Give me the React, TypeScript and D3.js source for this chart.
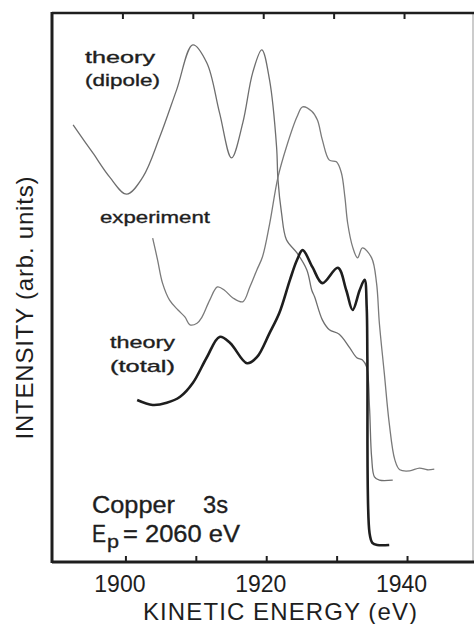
import React from 'react';
import * as d3 from 'd3';

// energies (eV) and intensities (arb. units, 0..100 frame height)
const dipoleE = [1892.5, 1895.3, 1897.7, 1900.1, 1902.4, 1904.8, 1907.2, 1909.5, 1911.5, 1913.3, 1915.0, 1916.6, 1918.0, 1919.3, 1920.4, 1921.4, 1921.6, 1922.1, 1922.8, 1924.3, 1925.7, 1926.4, 1926.8, 1927.9, 1928.9, 1930.3, 1931.8, 1932.8, 1933.6, 1934.2, 1934.6, 1934.9, 1935.3, 1936.0, 1937.9];
const dipoleI = [79.6, 74.5, 70.1, 67.0, 70.1, 77.4, 86.0, 94.2, 90.9, 81.8, 73.6, 80.0, 89.1, 93.3, 87.8, 75.6, 69.6, 63.6, 58.7, 56.3, 53.2, 49.5, 48.3, 44.1, 42.3, 41.5, 39.0, 37.2, 36.8, 35.5, 28.2, 19.1, 15.5, 14.9, 14.9];

const exptE = [1903.8, 1904.5, 1905.2, 1906.2, 1907.4, 1908.4, 1909.1, 1910.1, 1910.8, 1911.9, 1913.0, 1914.0, 1915.2, 1916.6, 1917.6, 1918.6, 1919.4, 1920.4, 1921.6, 1922.8, 1924.3, 1925.1, 1926.4, 1927.2, 1927.9, 1928.9, 1929.9, 1930.6, 1931.1, 1931.5, 1932.2, 1932.9, 1933.6, 1934.9, 1935.6, 1936.0, 1936.7, 1937.4, 1938.2, 1938.9, 1940.3, 1941.7, 1942.8, 1943.8];
const exptI = [59.0, 55.0, 50.8, 47.7, 45.9, 44.6, 43.2, 43.5, 44.6, 47.7, 50.1, 49.5, 48.1, 47.4, 50.1, 53.2, 55.6, 61.5, 70.1, 75.6, 81.1, 82.9, 82.1, 80.5, 76.9, 73.2, 72.9, 70.9, 66.5, 61.7, 57.4, 55.4, 57.2, 55.4, 50.8, 43.5, 34.4, 25.3, 18.6, 16.8, 16.6, 17.1, 16.8, 16.9];

const totalE = [1901.6, 1903.8, 1905.8, 1907.7, 1909.5, 1911.5, 1913.3, 1914.8, 1917.2, 1918.6, 1920.4, 1921.8, 1923.3, 1924.3, 1925.1, 1926.5, 1927.9, 1930.1, 1931.3, 1932.2, 1933.2, 1933.9, 1934.2, 1934.3, 1934.6, 1935.0, 1935.7, 1937.4];
const totalI = [29.5, 28.6, 29.0, 30.1, 32.6, 37.3, 41.0, 39.9, 36.2, 37.3, 41.7, 45.4, 51.4, 55.0, 56.8, 53.7, 50.8, 53.6, 49.5, 45.9, 49.5, 51.4, 46.4, 36.8, 5.3, 3.5, 3.1, 3.1];

const xTicks = [1900, 1910, 1920, 1930, 1940];
const xTickLabels = [1900, 1920, 1940];

const W = 474;
const H = 624;
const frame = { left: 52, top: 13, right: 473, bottom: 562 };

const font = '"Liberation Sans", Arial, sans-serif';
const ink = '#1e1e1e';

const Label = ({ x, y, text, size, len }: { x: number; y: number; text: string; size: number; len?: number }) => (
  <text x={x} y={y} fontSize={size} fontFamily={font} fill={ink} stroke={ink} strokeWidth={0.35}
    textLength={len} lengthAdjust={len ? 'spacingAndGlyphs' : undefined}>{text}</text>
);

export default function App() {
  const x = d3.scaleLinear().domain([1889.5, 1949.3]).range([frame.left, frame.right]);
  const y = d3.scaleLinear().domain([0, 100]).range([frame.bottom, frame.top]);

  const line = d3.line<[number, number]>()
    .x(d => x(d[0]))
    .y(d => y(d[1]))
    .curve(d3.curveCatmullRom.alpha(0.5));

  const dipole = line(dipoleE.map((e, i) => [e, dipoleI[i]]));
  const expt = line(exptE.map((e, i) => [e, exptI[i]]));
  const total = line(totalE.map((e, i) => [e, totalI[i]]));

  return (
    <svg width={W} height={H} style={{ position: 'absolute', left: 0, top: 0, background: '#fff' }}>
      <rect x={0} y={0} width={W} height={H} fill="#fff" />

      {/* frame */}
      <line x1={frame.right} x2={frame.right} y1={frame.top} y2={frame.bottom} stroke="#999" strokeWidth={1} />
      <line x1={frame.left} x2={W} y1={frame.top} y2={frame.top} stroke={ink} strokeWidth={2.5} />
      <line x1={frame.left} x2={frame.left} y1={frame.top - 1} y2={frame.bottom + 1} stroke={ink} strokeWidth={3} />
      <line x1={frame.left} x2={W} y1={frame.bottom} y2={frame.bottom} stroke={ink} strokeWidth={3} />

      {xTicks.map(t => (
        <g key={t}>
          <line x1={x(t)} x2={x(t)} y1={frame.bottom} y2={frame.bottom - 6} stroke={ink} strokeWidth={2} />
          <line x1={x(t) - 3} x2={x(t) - 3} y1={frame.top} y2={frame.top + 6} stroke={ink} strokeWidth={2} />
        </g>
      ))}
      {xTickLabels.map(t => (
        <text key={t} x={x(t) - 6} y={592} textAnchor="middle" fontSize={23} fontFamily={font} fill={ink}>{t}</text>
      ))}

      <text x={280} y={620} textAnchor="middle" fontSize={24} fontFamily={font} fill={ink} textLength={274}>
        KINETIC ENERGY (eV)
      </text>
      <text transform="translate(33,308) rotate(-90)" textAnchor="middle" fontSize={24} fontFamily={font} fill={ink} textLength={263}>
        INTENSITY (arb. units)
      </text>

      {/* curves */}
      <path d={dipole ?? ''} fill="none" stroke="#6e6e6e" strokeWidth={1.3} />
      <path d={expt ?? ''} fill="none" stroke="#7a7a7a" strokeWidth={1.3} />
      <path d={total ?? ''} fill="none" stroke={ink} strokeWidth={2.6} strokeLinejoin="round" />

      {/* annotations */}
      <Label x={85} y={63} text="theory" size={17} len={70} />
      <Label x={85} y={86} text="(dipole)" size={17} len={75} />
      <Label x={100} y={223} text="experiment" size={17} len={110} />
      <Label x={110} y={348} text="theory" size={17} len={65} />
      <Label x={110} y={372} text="(total)" size={17} len={65} />
      <Label x={92} y={513} text="Copper" size={24} len={83} />
      <Label x={203} y={513} text="3s" size={24} len={25} />
      <Label x={92} y={542} text="E" size={24} len={14} />
      <Label x={107} y={548} text="p" size={18} len={12} />
      <Label x={123} y={542} text="= 2060 eV" size={24} len={117} />
    </svg>
  );
}
